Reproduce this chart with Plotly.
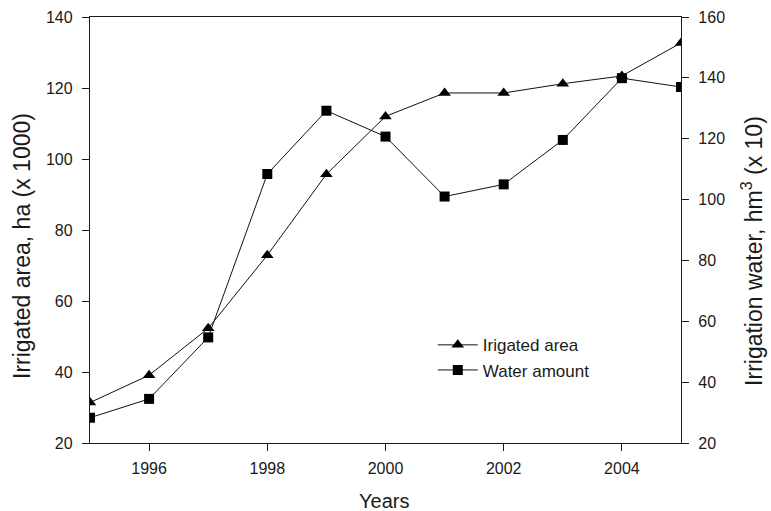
import plotly.graph_objects as go

# Irrigated area and irrigation water volume, 1995-2005
years = [1995, 1996, 1997, 1998, 1999, 2000, 2001, 2002, 2003, 2004, 2005]
irrigated_area = [31.4, 39.1, 52.3, 72.9, 95.7, 112.0, 118.6, 118.6, 121.2, 123.4, 132.7]
water_amount = [28.3, 34.5, 54.7, 108.4, 129.2, 120.7, 101.0, 105.0, 119.6, 139.9, 137.0]

x_ticks = [1996, 1998, 2000, 2002, 2004]
left_ticks = [20, 40, 60, 80, 100, 120, 140]
right_ticks = [20, 40, 60, 80, 100, 120, 140, 160]

FONT = "Liberation Sans, Arial, sans-serif"
INK = "#1a1a1a"

fig = go.Figure()
fig.add_trace(go.Scatter(
    x=years, y=irrigated_area, name="Irigated area", mode="lines+markers",
    line=dict(color="#111111", width=1),
    marker=dict(symbol="triangle-up", size=11, color="#000000"),
    yaxis="y",
))
fig.add_trace(go.Scatter(
    x=years, y=water_amount, name="Water amount", mode="lines+markers",
    line=dict(color="#111111", width=1),
    marker=dict(symbol="square", size=10, color="#000000"),
    yaxis="y2",
))

axis_common = dict(
    showgrid=False, zeroline=False, showline=True, linecolor=INK, linewidth=1.3,
    ticks="outside", ticklen=7, tickwidth=1.3, tickcolor=INK, automargin=False,
    tickfont=dict(family=FONT, size=16, color=INK),
)

# axis titles placed as paper-anchored text
titles = [
    dict(text="Irrigated area, ha (x 1000)", x=-0.1151, y=0.4624, textangle=-90, size=23),
    dict(text="Irrigation water, hm<sup>3</sup> (x 10)", x=1.1200, y=0.4507, textangle=-90, size=23),
    dict(text="Years", x=0.4983, y=-0.1370, textangle=0, size=20),
]

fig.update_layout(
    width=771, height=511,
    margin=dict(l=90, r=90, t=17, b=68),
    paper_bgcolor="white", plot_bgcolor="white",
    font=dict(family=FONT, color=INK),
    showlegend=True,
    legend=dict(
        x=0.580, y=0.20, xanchor="left", yanchor="middle",
        bgcolor="rgba(0,0,0,0)", borderwidth=0,
        font=dict(family=FONT, size=17, color=INK),
        tracegroupgap=0, itemwidth=40,
    ),
    xaxis=dict(
        **axis_common, range=[1995, 2005], tickvals=x_ticks, mirror=True,
        ticklabelstandoff=4,
    ),
    yaxis=dict(
        **axis_common, range=[20, 140], tickvals=left_ticks,
        ticklabelstandoff=6,
    ),
    yaxis2=dict(
        **axis_common, range=[20, 160], tickvals=right_ticks,
        overlaying="y", side="right", ticklabelstandoff=6,
    ),
    annotations=[
        dict(text=t["text"], x=t["x"], y=t["y"], xref="paper", yref="paper",
             xanchor="center", yanchor="middle", textangle=t["textangle"],
             showarrow=False, font=dict(family=FONT, size=t["size"], color=INK))
        for t in titles
    ],
)

fig.write_html("out.html")
